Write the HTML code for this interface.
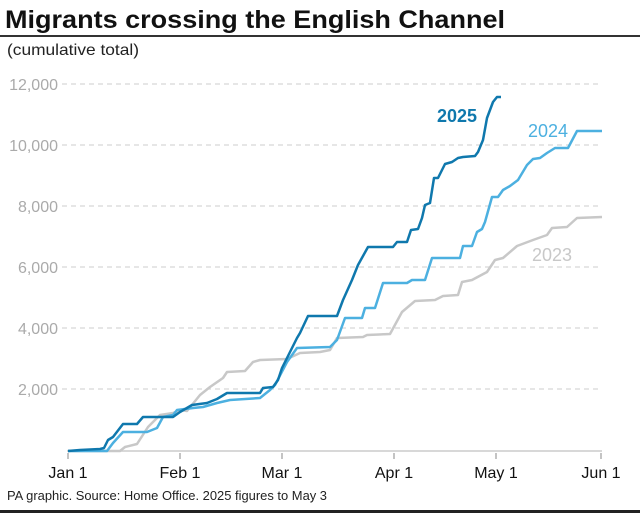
<!DOCTYPE html>
<html><head><meta charset="utf-8"><style>
html,body{margin:0;padding:0;background:#fff;}
svg{display:block;font-family:"Liberation Sans",sans-serif;}
</style></head><body>
<svg width="640" height="515" viewBox="0 0 640 515" xmlns="http://www.w3.org/2000/svg">
<rect width="640" height="515" fill="#fff"/>
<text x="5" y="28" font-size="25" font-weight="bold" fill="#111" textLength="500" lengthAdjust="spacingAndGlyphs">Migrants crossing the English Channel</text>
<rect x="0" y="35" width="640" height="2" fill="#333"/>
<text x="7" y="55" font-size="16" fill="#222" textLength="132" lengthAdjust="spacingAndGlyphs">(cumulative total)</text>
<g stroke="#d6d6d6" stroke-width="1.3" stroke-dasharray="5,4">
<line x1="62" y1="84" x2="602" y2="84"/>
<line x1="62" y1="145" x2="602" y2="145"/>
<line x1="62" y1="206" x2="602" y2="206"/>
<line x1="62" y1="267" x2="602" y2="267"/>
<line x1="62" y1="328" x2="602" y2="328"/>
<line x1="62" y1="389" x2="602" y2="389"/>
</g>
<g font-size="16" fill="#aaa" text-anchor="end">
<text x="58" y="90">12,000</text>
<text x="58" y="151">10,000</text>
<text x="58" y="212">8,000</text>
<text x="58" y="273">6,000</text>
<text x="58" y="334">4,000</text>
<text x="58" y="395">2,000</text>
</g>
<line x1="67" y1="451" x2="602" y2="451" stroke="#ccc" stroke-width="1.5"/>
<g stroke="#888" stroke-width="1">
<line x1="68" y1="453" x2="68" y2="459"/>
<line x1="180" y1="453" x2="180" y2="459"/>
<line x1="282" y1="453" x2="282" y2="459"/>
<line x1="394" y1="453" x2="394" y2="459"/>
<line x1="496" y1="453" x2="496" y2="459"/>
<line x1="601" y1="453" x2="601" y2="459"/>
</g>
<g font-size="16" fill="#111" text-anchor="middle">
<text x="68" y="478">Jan 1</text>
<text x="180" y="478">Feb 1</text>
<text x="282" y="478">Mar 1</text>
<text x="394" y="478">Apr 1</text>
<text x="496" y="478">May 1</text>
<text x="601" y="478">Jun 1</text>
</g>
<text x="7" y="500" font-size="13" fill="#222" textLength="320" lengthAdjust="spacingAndGlyphs">PA graphic. Source: Home Office. 2025 figures to May 3</text>
<rect x="0" y="510" width="640" height="3" fill="#222"/>
<g fill="none" stroke-width="2.5" stroke-linejoin="round">
<polyline stroke="#c8c8c8" points="68,451 120,451 125,447 137,444 148,427 160,415 173,413 180,410 187,411 200,395 210,387 223,378 227,372 245,371 253,362 260,360 287,359 300,353 320,352 330,350 337,338 363,337 367,335 390,334 402,312 415,301 435,300 443,296 458,295 462,282 472,280 487,272 495,260 503,258 517,246 533,240 547,235 552,228 567,227 577,218 602,217"/>
<polyline stroke="#4cb0e0" points="68,451 107,451 113,443 123,432 147,432 157,428 163,417 173,415 177,410 193,408 203,407 217,403 230,400 260,398 270,390 275,385 287,362 297,348 330,347 337,340 345,318 362,318 365,308 375,308 383,283 407,283 412,280 425,280 432,258 460,258 463,246 472,246 477,232 482,229 485,222 492,197 498,197 503,190 510,186 518,180 527,165 533,159 540,158 547,153 555,148 568,148 577,131 602,131"/>
<polyline stroke="#0f78ad" points="68,451 80,450 100,449 104,448 108,440 113,437 123,424 137,424 143,417 173,417 180,412 192,405 207,403 217,399 227,393 260,393 263,388 273,387 278,380 282,368 290,352 297,338 300,333 308,316 337,316 343,300 352,280 358,265 368,247 393,247 397,242 407,242 411,230 418,229 422,218 425,205 430,203 434,178 438,178 445,164 452,162 458,158 463,157 475,156 478,152 483,140 487,118 493,102 497,97 501,97"/>
</g>
<text x="437" y="122" font-size="18" font-weight="bold" fill="#0f78ad">2025</text>
<text x="528" y="137" font-size="18" fill="#4cb0e0">2024</text>
<text x="532" y="261" font-size="18" fill="#c8c8c8">2023</text>
</svg>
</body></html>
